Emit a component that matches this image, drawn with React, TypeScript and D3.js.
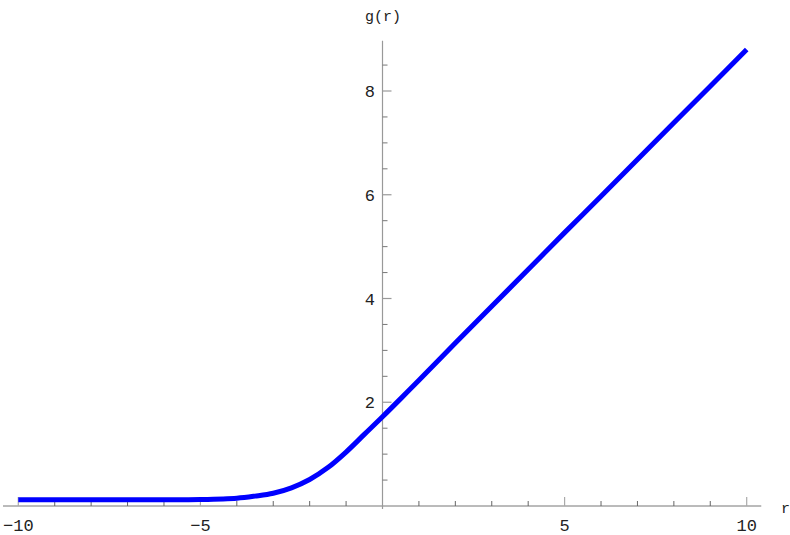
import React from 'react';
import * as d3 from 'd3';

// values
const rValues = [-10, -9, -8, -7, -6, -5, -4, -3.5, -3, -2.5, -2, -1.5, -1, -0.5, 0, 0.5, 1, 2, 3, 4, 5, 6, 7, 8, 9, 10];
const gValues = [0.12, 0.12, 0.12, 0.12, 0.12, 0.125, 0.15, 0.19, 0.245, 0.35, 0.51, 0.74, 1.04, 1.38, 1.72, 2.07, 2.425, 3.14, 3.85, 4.56, 5.27, 5.97, 6.68, 7.39, 8.09, 8.8];

const xMajorTicks = [-10, -5, 5, 10];
const xTickLabels = ['\u221210', '\u22125', '5', '10'];
const xMinorTicks = [-9, -8, -7, -6, -4, -3, -2, -1, 1, 2, 3, 4, 6, 7, 8, 9];
const yMajorTicks = [2, 4, 6, 8];
const yTickLabels = ['2', '4', '6', '8'];
const yMinorTicks = [0.5, 1, 1.5, 2.5, 3, 3.5, 4.5, 5, 5.5, 6.5, 7, 7.5, 8.5];

const width = 790;
const height = 535;

export default function App() {
  const x = d3.scaleLinear().domain([-10, 10]).range([18.3, 746.7]);
  const y = d3.scaleLinear().domain([0, 8]).range([506, 91]);

  const points: [number, number][] = rValues.map((r, i) => [r, gValues[i]]);
  const line = d3.line<[number, number]>()
    .x(d => x(d[0]))
    .y(d => y(d[1]))
    .curve(d3.curveCatmullRom.alpha(0.5));

  const x0 = x(0);
  const y0 = y(0);
  const font = '"Liberation Mono", monospace';

  return (
    <div style={{ position: 'absolute', left: 0, top: 0 }}>
      <svg width={width} height={height} style={{ display: 'block', background: '#fff' }}>
        {/* axes */}
        <line x1={x(-10.42)} x2={x(10.4)} y1={y0} y2={y0} stroke="#777" strokeWidth={1} />
        <line x1={x0} x2={x0} y1={y(8.97)} y2={y(-0.06)} stroke="#999" strokeWidth={1.2} />

        {/* x ticks, drawn upward */}
        {xMinorTicks.map(t => (
          <line key={'xm' + t} x1={x(t)} x2={x(t)} y1={y0} y2={y0 - 5} stroke="#666" strokeWidth={1} />
        ))}
        {xMajorTicks.map((t, i) => (
          <g key={'xM' + t}>
            <line x1={x(t)} x2={x(t)} y1={y0} y2={y0 - 9} stroke="#aaa" strokeWidth={1.2} />
            <text x={x(t)} y={531} textAnchor="middle" fontFamily={font} fontSize={17} fill="#222">
              {xTickLabels[i]}
            </text>
          </g>
        ))}

        {/* y ticks, drawn to the right */}
        {yMinorTicks.map(t => (
          <line key={'ym' + t} x1={x0} x2={x0 + 5} y1={y(t)} y2={y(t)} stroke="#777" strokeWidth={1} />
        ))}
        {yMajorTicks.map((t, i) => (
          <g key={'yM' + t}>
            <line x1={x0} x2={x0 + 9} y1={y(t)} y2={y(t)} stroke="#999" strokeWidth={1.2} />
            <text x={375} y={y(t) + 6} textAnchor="end" fontFamily={font} fontSize={17} fill="#222">
              {yTickLabels[i]}
            </text>
          </g>
        ))}

        {/* axis labels */}
        <text x={383} y={21} textAnchor="middle" fontFamily={font} fontSize={15} fill="#222">g(r)</text>
        <text x={781} y={513} fontFamily={font} fontSize={15} fill="#222">r</text>

        {/* curve */}
        <path d={line(points) || ''} fill="none" stroke="#0000ff" strokeWidth={5} strokeLinejoin="round" />
      </svg>
    </div>
  );
}
